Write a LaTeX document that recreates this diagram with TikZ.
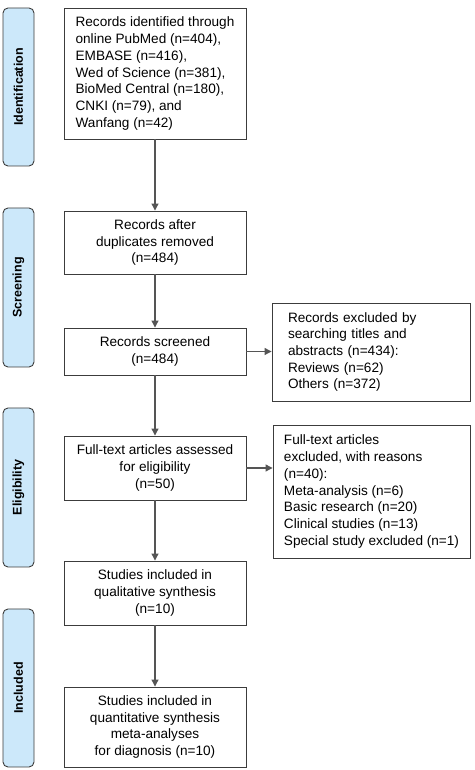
\documentclass[tikz,border=0pt]{standalone}
\usepackage{fontspec}
\setmainfont{Liberation Sans}
\usetikzlibrary{arrows.meta}
\definecolor{phase}{HTML}{CCE8FA}
\definecolor{edge}{HTML}{3C3C3C}
\definecolor{conn}{HTML}{555555}
\begin{document}
\begin{tikzpicture}[x=1pt,y=1pt,
  phasebox/.style={draw=edge,fill=phase,rounded corners=5pt,line width=0.9pt,
    minimum width=31pt,inner sep=0pt,font=\fontsize{12.5}{15}\selectfont\bfseries},
  mainbox/.style={draw=edge,line width=0.9pt,minimum width=182pt,inner sep=0pt,
    align=center,font=\fontsize{13.6}{16.7}\selectfont},
  leftbox/.style={draw=edge,line width=0.9pt,inner sep=0pt,
    align=left,font=\fontsize{13.6}{16.7}\selectfont},
  conn/.style={draw=conn,line width=1.1pt,-{Triangle[length=7pt,width=7pt]}}]
\useasboundingbox (0,0) rectangle (474,770);
% phase labels
\node[phasebox,minimum height=158pt] (pid) at (18.5,683) {\rotatebox{90}{Identification}};
\node[phasebox,minimum height=159pt] (psc) at (18.5,482.5) {\rotatebox{90}{Screening}};
\node[phasebox,minimum height=159pt] (pel) at (18.5,282.5) {\rotatebox{90}{Eligibility}};
\node[phasebox,minimum height=158pt] (pin) at (18.5,82) {\rotatebox{90}{Included}};
% main column
\node[leftbox,minimum width=182pt,minimum height=131pt] (b1) at (155,696.5)
 {Records identified through\\online PubMed (n=404),\\EMBASE (n=416),\\Wed of Science (n=381),\\BioMed Central (n=180),\\CNKI (n=79), and\\Wanfang (n=42)};
\node[mainbox,minimum height=63pt] (b2) at (155,527.5) {Records after\\duplicates removed\\(n=484)};
\node[mainbox,minimum height=47pt] (b3) at (155,418.5) {Records screened\\(n=484)};
\node[mainbox,minimum height=64pt] (b4) at (155,302) {Full-text articles assessed\\for eligibility\\(n=50)};
\node[mainbox,minimum height=64pt] (b5) at (155,177) {Studies included in\\qualitative synthesis\\(n=10)};
\node[mainbox,minimum height=80pt] (b6) at (155,43) {Studies included in\\quantitative synthesis\\meta-analyses\\for diagnosis (n=10)};
% exclusion boxes
\node[leftbox,minimum width=198pt,minimum height=98pt,text width=166pt] (e1) at (371,418)
 {Records excluded by\\searching titles and\\abstracts (n=434):\\Reviews (n=62)\\Others (n=372)};
\node[leftbox,minimum width=197pt,minimum height=133pt] (e2) at (371.5,278.5)
 {Full-text articles\\excluded, with reasons\\(n=40):\\Meta-analysis (n=6)\\Basic research (n=20)\\Clinical studies (n=13)\\Special study excluded (n=1)};
% connectors
\draw[conn] (b1) -- (b2);
\draw[conn] (b2) -- (b3);
\draw[conn] (b3) -- (b4);
\draw[conn] (b4) -- (b5);
\draw[conn] (b5) -- (b6);
\draw[conn] (b3.east) -- (e1.west |- b3.east);
\draw[conn] (b4.east) -- (e2.west |- b4.east);
\end{tikzpicture}
\end{document}
